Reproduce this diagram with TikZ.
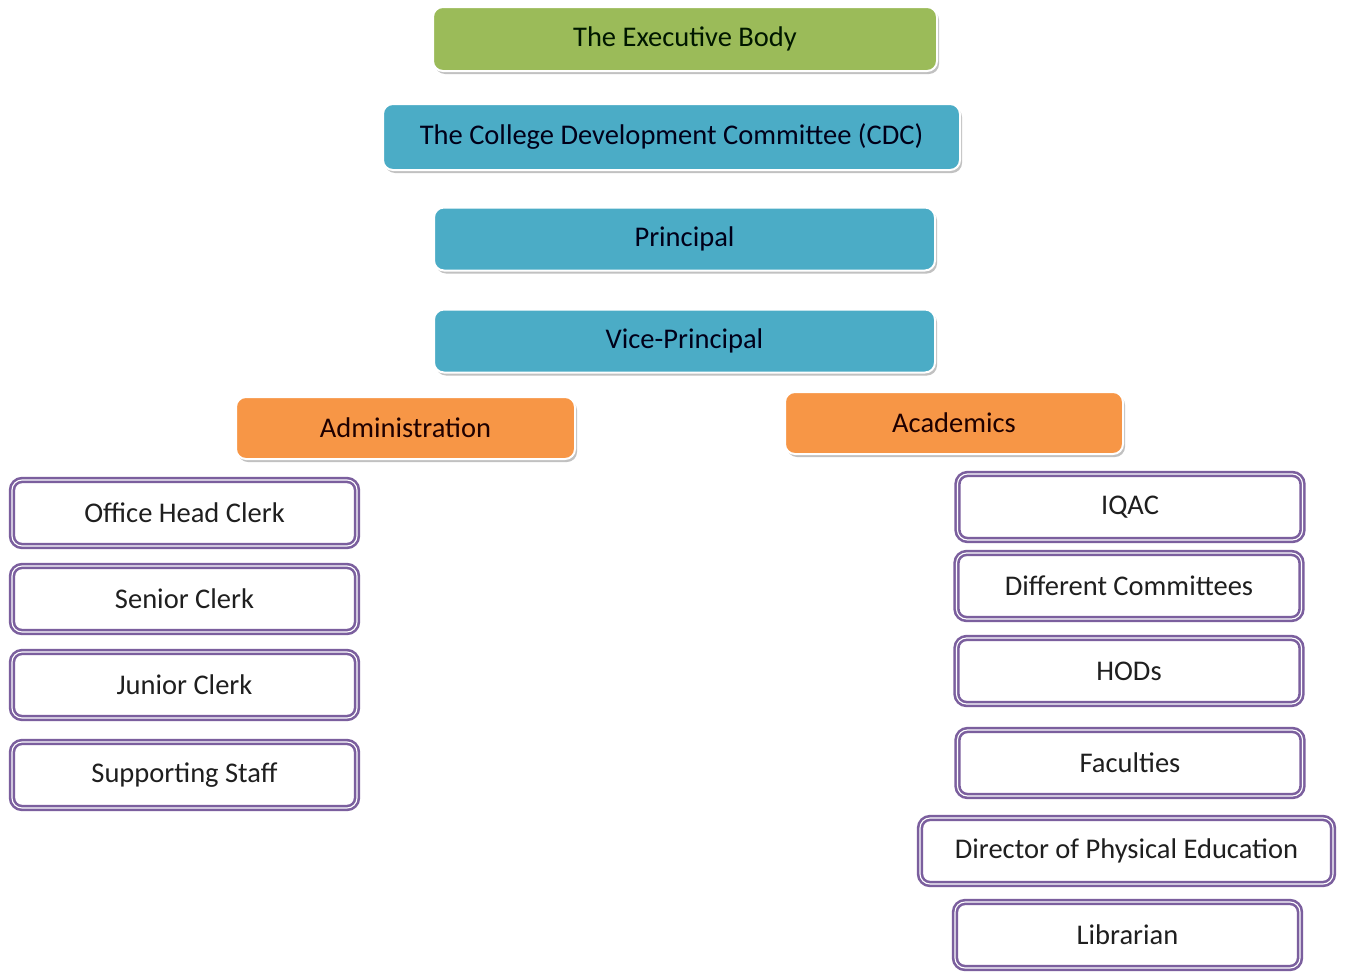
\documentclass[tikz,border=0pt]{standalone}
\usepackage{fontspec}
\setmainfont{Carlito}
\usetikzlibrary{shadows}
\definecolor{grn}{HTML}{9BBB59}
\definecolor{blu}{HTML}{4BACC6}
\definecolor{org}{HTML}{F79646}
\definecolor{pur}{HTML}{7B5F9E}
\definecolor{txtd}{HTML}{1F1F1F}
\begin{document}
\begin{tikzpicture}[x=1pt,y=-1pt,
  basefont/.style={font=\fontsize{28.5}{32}\selectfont, inner sep=0pt},
  topbox/.style={basefont, rounded corners=10pt, draw=white, line width=2pt,
    drop shadow={shadow xshift=2pt, shadow yshift=-3pt, fill=black!30, opacity=0.8}},
  gbox/.style={topbox, fill=grn, text=black!85!green!60!black},
  bbox/.style={topbox, fill=blu, text=black!80!blue!50!black},
  obox/.style={topbox, fill=org, text=black!80!red!60!black},
  pbox/.style={basefont, rounded corners=10pt, draw=pur, fill=white, line width=2.6pt, double=white, double distance=1.1pt,
    text=txtd, minimum width=345pt, minimum height=66pt}
]
\useasboundingbox[fill=white] (0,0) rectangle (1345,972);
\node[gbox, minimum width=504pt, minimum height=64pt] (exec) at (685,39) {The Executive Body};
\node[bbox, minimum width=577pt, minimum height=66pt] (cdc) at (671.5,137) {The College Development Committee (CDC)};
\node[bbox, minimum width=501pt, minimum height=63pt] (prin) at (684.5,239) {Principal};
\node[bbox, minimum width=501pt, minimum height=63pt] (vp) at (684.5,341) {Vice-Principal};
\node[obox, minimum width=339pt, minimum height=62pt] (admin) at (405.5,428) {Administration};
\node[obox, minimum width=338pt, minimum height=62pt] (acad) at (954,423) {Academics};
\node[pbox] (ohc) at (184.5,513) {Office Head Clerk};
\node[pbox] (sc) at (184.5,599) {Senior Clerk};
\node[pbox] (jc) at (184.5,685) {Junior Clerk};
\node[pbox] (ss) at (184.5,775) {Supporting Staff};
\node[pbox] (iqac) at (1130,507) {IQAC};
\node[pbox] (dc) at (1129,586) {Different Committees};
\node[pbox] (hods) at (1129,671) {HODs};
\node[pbox] (fac) at (1130,763) {Faculties};
\node[pbox, minimum width=413pt] (dpe) at (1126.5,851) {Director of Physical Education};
\node[pbox] (lib) at (1127.5,935) {Librarian};
\end{tikzpicture}
\end{document}
